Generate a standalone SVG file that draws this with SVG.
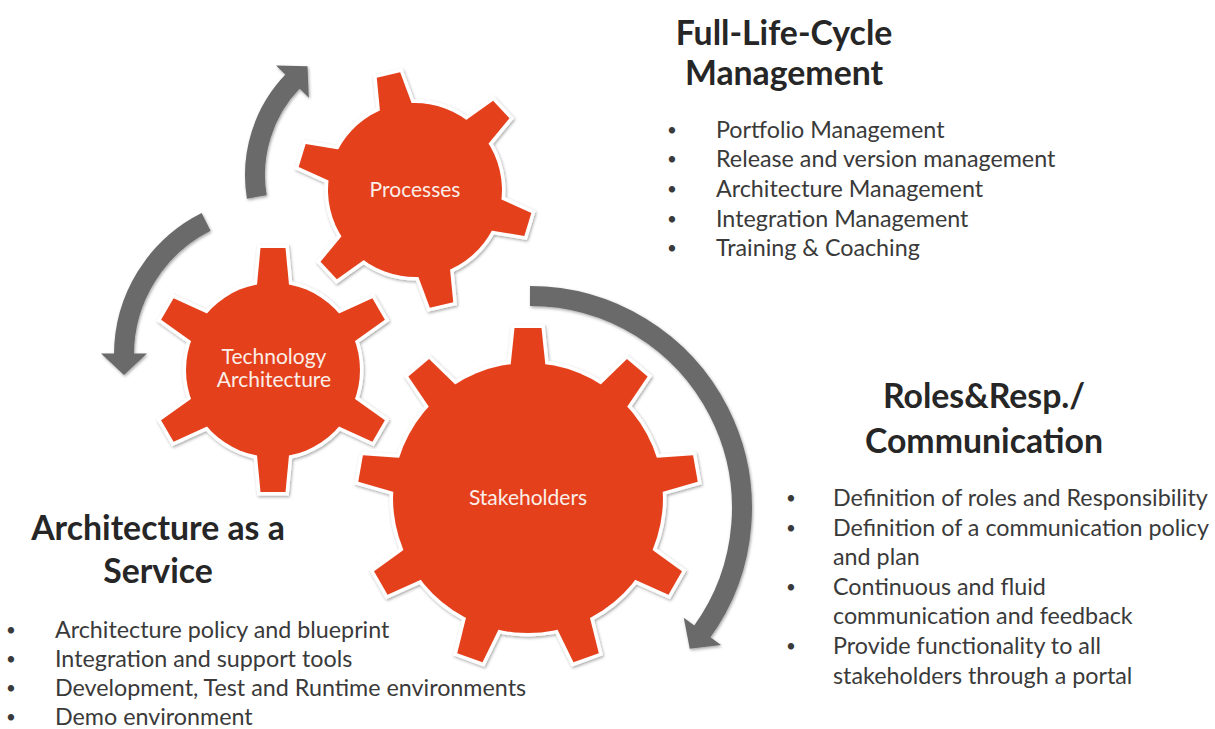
<svg xmlns="http://www.w3.org/2000/svg" xmlns:xlink="http://www.w3.org/1999/xlink" width="1215" height="729" viewBox="0 0 1215 729">
<style>
.gear-out{fill:#ffffff;stroke:#ffffff;stroke-width:7;stroke-linejoin:miter}
.gear-in{fill:#e4411e;stroke:none}
.glabel{font-family:Lato,"Open Sans",sans-serif;font-size:21px;fill:#fbeee8;text-anchor:middle}
.head{font-family:Lato,"Open Sans",sans-serif;font-size:33.8px;font-weight:700;fill:#262626;text-anchor:middle}
.body{font-family:Lato,"Open Sans",sans-serif;font-size:23.3px;fill:#3a3a3a}
.bul{font-family:Lato,"Open Sans",sans-serif;font-size:17px;fill:#3a3a3a;text-anchor:middle}
.band{fill:none;stroke:#6b6b6b;stroke-width:20;stroke-linecap:butt}
.ahead{fill:#6b6b6b}
</style>
<defs>
<filter id="shadow" x="-20%" y="-20%" width="140%" height="140%">
<feDropShadow dx="1" dy="1.5" stdDeviation="1.5" flood-color="#000000" flood-opacity="0.35"/>
</filter>
<g id="shape-p">
<circle r="87"/>
<polygon id="tp" points="80,-17 118,-12 118,12 80,17"/>
<use href="#tp" xlink:href="#tp" transform="rotate(60)"/>
<use href="#tp" xlink:href="#tp" transform="rotate(120)"/>
<use href="#tp" xlink:href="#tp" transform="rotate(180)"/>
<use href="#tp" xlink:href="#tp" transform="rotate(240)"/>
<use href="#tp" xlink:href="#tp" transform="rotate(300)"/>
</g>
<g id="shape-t">
<circle r="87"/>
<polygon id="tt" points="80,-16.5 122,-12.5 122,12.5 80,16.5"/>
<use href="#tt" xlink:href="#tt" transform="rotate(60)"/>
<use href="#tt" xlink:href="#tt" transform="rotate(120)"/>
<use href="#tt" xlink:href="#tt" transform="rotate(180)"/>
<use href="#tt" xlink:href="#tt" transform="rotate(240)"/>
<use href="#tt" xlink:href="#tt" transform="rotate(300)"/>
</g>
<g id="shape-s">
<circle r="135"/>
<polygon id="ts" points="127,-18 170,-13.5 170,13.5 127,18"/>
<use href="#ts" xlink:href="#ts" transform="rotate(40)"/>
<use href="#ts" xlink:href="#ts" transform="rotate(80)"/>
<use href="#ts" xlink:href="#ts" transform="rotate(120)"/>
<use href="#ts" xlink:href="#ts" transform="rotate(160)"/>
<use href="#ts" xlink:href="#ts" transform="rotate(200)"/>
<use href="#ts" xlink:href="#ts" transform="rotate(240)"/>
<use href="#ts" xlink:href="#ts" transform="rotate(280)"/>
<use href="#ts" xlink:href="#ts" transform="rotate(320)"/>
</g>
</defs>
<rect width="1215" height="729" fill="#ffffff"/>

<g id="connectors" filter="url(#shadow)">
<g id="arrow-up">
<path class="band" d="M256.8,197 A135,135 0 0 1 293.5,80.6"/>
<polygon class="ahead" points="276.03,65.57 307.5,66.3 308.87,97.77"/>
</g>
<g id="arrow-left">
<path class="band" d="M206.1,221.9 A149,149 0 0 0 124,355"/>
<polygon class="ahead" points="101,353.5 124,375 147,353.5"/>
</g>
<g id="arrow-right">
<path class="band" d="M530,296 A212,212 0 0 1 701.5,632.6"/>
<polygon class="ahead" points="720.99,644.91 689.74,648.78 683.77,617.87"/>
</g>
</g>

<g id="node-processes" transform="translate(415,190)">
<g filter="url(#shadow)">
<g transform="rotate(-103)">
<use href="#shape-p" xlink:href="#shape-p" class="gear-out"/>
<use href="#shape-p" xlink:href="#shape-p" class="gear-in"/>
</g>
</g>
<text class="glabel" x="0" y="7">Processes</text>
</g>

<g id="node-technology" transform="translate(273,370)">
<g filter="url(#shadow)">
<g transform="rotate(-90)">
<use href="#shape-t" xlink:href="#shape-t" class="gear-out"/>
<use href="#shape-t" xlink:href="#shape-t" class="gear-in"/>
</g>
</g>
<text class="glabel" x="1" y="-6">Technology</text>
<text class="glabel" x="1" y="17">Architecture</text>
</g>

<g id="node-stakeholders" transform="translate(528,498)">
<g filter="url(#shadow)">
<g transform="rotate(-90)">
<use href="#shape-s" xlink:href="#shape-s" class="gear-out"/>
<use href="#shape-s" xlink:href="#shape-s" class="gear-in"/>
</g>
</g>
<text class="glabel" x="0" y="7">Stakeholders</text>
</g>

<g id="block-lifecycle">
<text class="head" x="784" y="45">Full-Life-Cycle</text>
<text class="head" x="784" y="85">Management</text>
<text class="bul" x="672" y="136">•</text>
<text class="bul" x="672" y="165">•</text>
<text class="bul" x="672" y="195">•</text>
<text class="bul" x="672" y="225">•</text>
<text class="bul" x="672" y="254">•</text>
<text class="body" x="716" y="138">Portfolio Management</text>
<text class="body" x="716" y="167">Release and version management</text>
<text class="body" x="716" y="197">Architecture Management</text>
<text class="body" x="716" y="227">Integration Management</text>
<text class="body" x="716" y="256">Training &amp; Coaching</text>
</g>

<g id="block-roles">
<text class="head" x="984" y="408">Roles&amp;Resp./</text>
<text class="head" x="984" y="453">Communication</text>
<text class="bul" x="791" y="504">•</text>
<text class="bul" x="791" y="534">•</text>
<text class="bul" x="791" y="593">•</text>
<text class="bul" x="791" y="652">•</text>
<text class="body" x="833" y="506">Definition of roles and Responsibility</text>
<text class="body" x="833" y="536">Definition of a communication policy</text>
<text class="body" x="833" y="565">and plan</text>
<text class="body" x="833" y="595">Continuous and fluid</text>
<text class="body" x="833" y="624">communication and feedback</text>
<text class="body" x="833" y="654">Provide functionality to all</text>
<text class="body" x="833" y="684">stakeholders through a portal</text>
</g>

<g id="block-aaas">
<text class="head" x="158" y="540">Architecture as a</text>
<text class="head" x="158" y="583">Service</text>
<text class="bul" x="11" y="636">•</text>
<text class="bul" x="11" y="665">•</text>
<text class="bul" x="11" y="694">•</text>
<text class="bul" x="11" y="723">•</text>
<text class="body" x="55" y="638">Architecture policy and blueprint</text>
<text class="body" x="55" y="667">Integration and support tools</text>
<text class="body" x="55" y="696">Development, Test and Runtime environments</text>
<text class="body" x="55" y="725">Demo environment</text>
</g>
</svg>
